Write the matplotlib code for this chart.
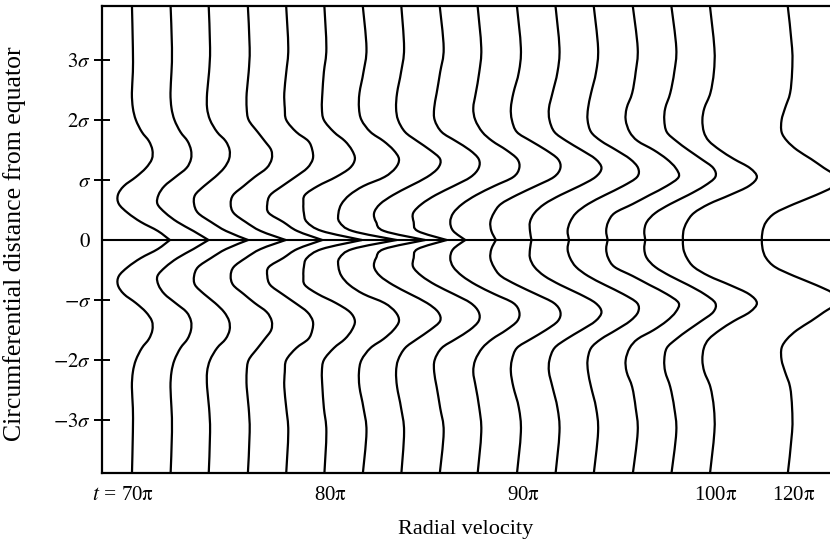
import matplotlib
matplotlib.use("Agg")
import matplotlib.pyplot as plt
import matplotlib.transforms as mtransforms
from matplotlib.path import Path
from matplotlib.patches import PathPatch
import numpy as np

plt.rcParams['font.family'] = ['Liberation Serif', 'DejaVu Serif']
plt.rcParams['mathtext.fontset'] = 'stix'

# times (in units of pi) for each profile
times_pi = [70, 72, 74, 76, 78, 80, 82, 84, 86, 88, 90, 92, 94, 96, 98, 100, 120]

# circumferential distance levels (units of sigma), upper half; profiles are symmetric about the equator
y_levels = [0, 0.15, 0.3, 0.45, 0.6, 0.75, 0.9, 1.05, 1.2, 1.35, 1.5, 1.65, 1.8, 2.0, 2.2, 2.45, 2.8, 3.2, 3.95]

# radial velocity at each level (arbitrary units), one row per time
velocity = [
    [37, 25, 8, -5, -14, -15, -9, 3, 13, 19, 19.5, 16, 9, 3, 0, -1, 0, 0, -1],
    [37, 22, 6, -6, -14, -13, -7, 4, 15, 19.5, 19.5, 16, 9, 3, 0, -1, 0, 0.5, -1],
    [38, 16, 1, -12, -16, -15, -6, 5, 14, 19, 19.5, 15.5, 7, 0, -3, -3, -1, 0, -1.5],
    [37, 12, -3, -15, -18, -15.5, -5, 6, 18, 23, 22.5, 16, 9, 0, -2, -2, 0, 1, -1],
    [35, 10, -4, -18.5, -20, -17, -5, 8, 20, 25.5, 25, 21, 9, -1, -2.5, -3, -1, 1, -1.3],
    [36, -4, -19, -22, -22.5, -21, -8, 10, 24, 29, 26, 19, 8, -2, -4, -3.5, -2, 0.5, -1.7],
    [32, -12, -25, -26, -23, -15, -1, 20, 31, 34.5, 29, 19, 6, -3, -5.5, -5, -1, 2, -2],
    [22, -19, -27, -29, -23, -10, 7, 24, 35, 37, 27, 14, 2, -5, -7, -6, -2, 1, -2],
    [5, -24, -28, -28.5, -20, -6, 12, 29, 37, 37, 28, 14, 0, -7, -7.5, -5, -1.5, 2, -2.3],
    [-15, -27, -30, -27, -18, -4, 14, 33, 39, 37, 26, 12, 2, -5, -7, -4.5, -1, 1, -3],
    [-23, -27.5, -28.5, -25, -18, -2, 17, 35, 41.5, 39, 27, 12, -2, -7, -8, -5.5, 0, 2, -2.3],
    [-26, -27.5, -27.5, -23, -13, 3, 22, 38, 44, 38, 24, 9, -3, -8, -8.5, -5, 0, 2, -2.3],
    [-27, -28.5, -26, -20, -8, 9, 27, 41, 42, 34, 20, 5, -5, -8.5, -8, -5, 0, 2, -2.7],
    [-27, -28.5, -26.5, -20, -2, 15, 32, 44, 41, 32, 19, 3, -5, -9, -8, -2.5, 1, 3, -2.3],
    [-28, -29, -26.5, -18, -3, 15, 31, 42, 40, 28, 15, 3, -6.5, -9, -8, -3, 1, 3, -2.3],
    [-29, -28.5, -25, -18, -3, 18, 37, 45, 38, 22, 8, -3, -8, -9.5, -7.5, -1.5, 2, 2.5, -2.3],
    [-27.3, -26.5, -23, -14, 5, 27, 45, 48, 35, 22, 8, -2, -7.5, -7.5, -4, 1, 3, 3, -1.7],
]

tick_times = [70, 80, 90, 100, 120]
tick_labels = [r'70$\mathrm{\pi}$', r'80$\mathrm{\pi}$', r'90$\mathrm{\pi}$', r'100$\mathrm{\pi}$', r'120$\mathrm{\pi}$']
y_ticks = [-3, -2, -1, 0, 1, 2, 3]
y_tick_labels = [r'$-3\sigma$', r'$-2\sigma$', r'$-\sigma$', r'$0$', r'$\sigma$', r'$2\sigma$', r'$3\sigma$']

vel_scale = 1 / 38.6  # velocity units per time-step spacing


def t_to_x(t):
    # broken time axis: uniform up to 100 pi, then a gap before 120 pi
    return (t - 70) / 2 if t <= 100 else (100 - 70) / 2 + 2


def smooth_path(xs, ys):
    """Catmull-Rom curve through the points, as cubic Bezier segments."""
    pts = np.column_stack([xs, ys])
    n = len(pts)
    verts = [pts[0]]
    codes = [Path.MOVETO]
    for i in range(n - 1):
        p0 = pts[i - 1] if i > 0 else pts[i]
        p1 = pts[i]
        p2 = pts[i + 1]
        p3 = pts[i + 2] if i + 2 < n else pts[i + 1]
        c1 = p1 + (p2 - p0) / 6.0
        c2 = p2 - (p3 - p1) / 6.0
        verts += [c1, c2, p2]
        codes += [Path.CURVE4] * 3
    return Path(verts, codes)


fig = plt.figure(figsize=(8.3, 5.4), dpi=100)
ax = fig.add_axes([102 / 830, 67 / 540, 728 / 830, 467 / 540])

y_half = np.array(y_levels)
for t, v in zip(times_pi, velocity):
    xs = t_to_x(t) + np.array(v) * vel_scale
    for sign in (1, -1):
        path = smooth_path(xs, sign * y_half)
        ax.add_patch(PathPatch(path, facecolor='none', edgecolor='black', lw=1.6,
                               joinstyle='round', capstyle='round'))

ax.axhline(0, color='black', lw=1.5)
ax.set_xlim(-0.80, 18.06)
ax.set_ylim(-3.883, 3.9)

ax.spines['right'].set_visible(False)
for s in ['left', 'top', 'bottom']:
    ax.spines[s].set_linewidth(1.6)

ax.set_yticks(y_ticks)
ax.set_yticklabels(y_tick_labels, fontsize=15)
ax.tick_params(axis='y', direction='inout', length=12, width=1.4, pad=2)
ax.yaxis.get_major_ticks()[3].tick1line.set_visible(False)

ax.set_xticks([t_to_x(t) for t in tick_times])
ax.set_xticklabels(tick_labels, fontsize=15)
ax.tick_params(axis='x', length=0, pad=9)
shift = mtransforms.ScaledTranslation(3 / 72, 0, fig.dpi_scale_trans)
for lab in ax.get_xticklabels():
    lab.set_transform(lab.get_transform() + shift)

ax.annotate(r'$t$ =', xy=(t_to_x(70), 0), xycoords=('data', 'axes fraction'),
            xytext=(-12, -9), textcoords='offset points', ha='right', va='top', fontsize=15.5)

ax.set_ylabel('Circumferential distance from equator', fontsize=18.5)
ax.yaxis.set_label_coords(-0.104, 0.49)
ax.set_xlabel('Radial velocity', fontsize=16, labelpad=11)

fig.savefig('out.png', dpi=100)
